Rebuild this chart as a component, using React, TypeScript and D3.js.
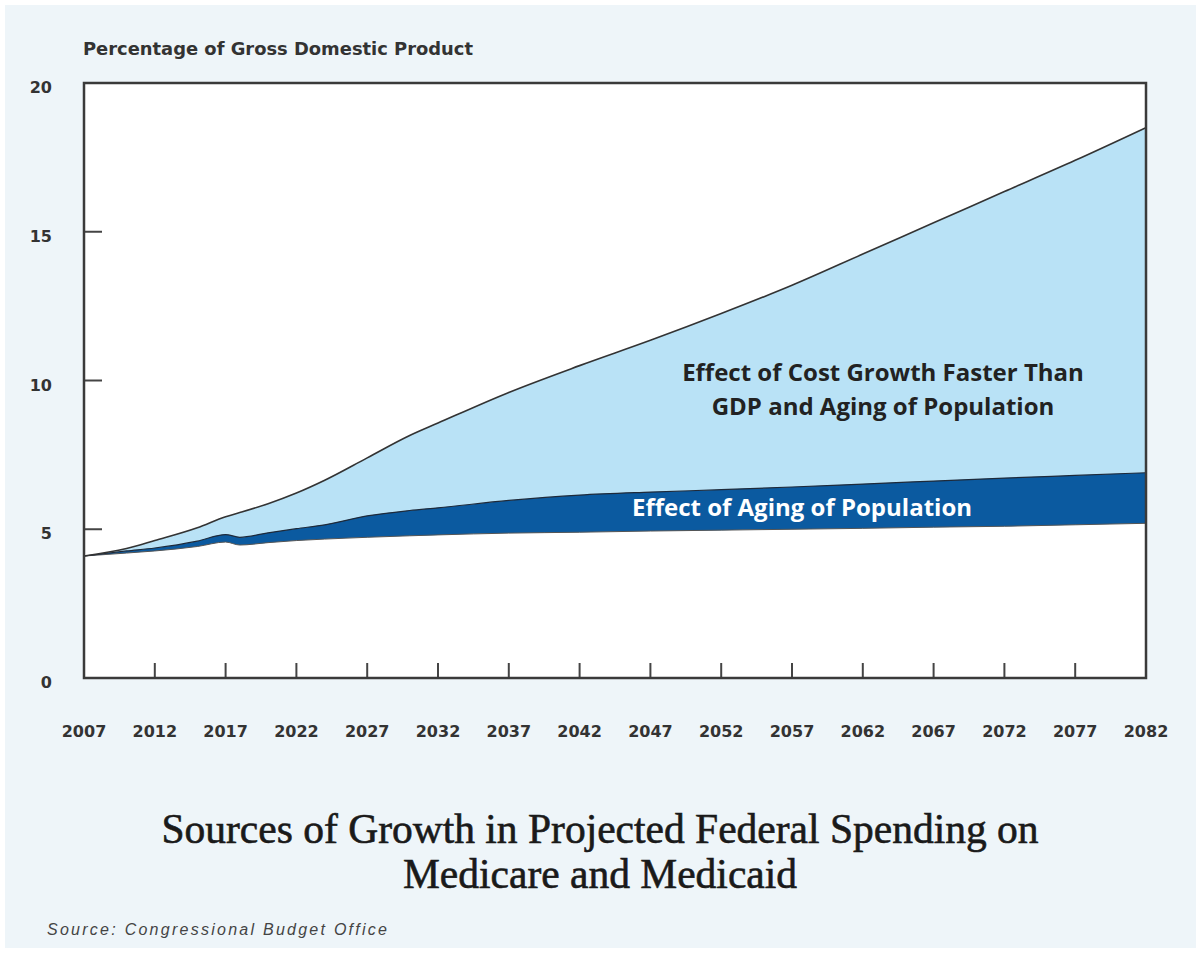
import React from "react";
import * as d3 from "d3";

const years = [2007, 2010, 2012, 2015, 2017, 2018, 2020, 2022, 2024, 2027, 2030, 2032, 2037, 2042, 2047, 2052, 2057, 2062, 2067, 2072, 2077, 2082];
const totalSpending = [4.1, 4.35, 4.62, 5.05, 5.42, 5.56, 5.86, 6.22, 6.65, 7.4, 8.15, 8.57, 9.6, 10.5, 11.35, 12.25, 13.2, 14.25, 15.3, 16.35, 17.4, 18.5];
const withAging = [4.1, 4.27, 4.37, 4.6, 4.82, 4.73, 4.88, 5.02, 5.15, 5.45, 5.63, 5.72, 5.97, 6.15, 6.25, 6.33, 6.42, 6.52, 6.62, 6.72, 6.81, 6.9];
const baseline = [4.1, 4.2, 4.27, 4.42, 4.57, 4.47, 4.55, 4.62, 4.67, 4.73, 4.78, 4.81, 4.87, 4.9, 4.94, 4.97, 5.0, 5.03, 5.07, 5.1, 5.15, 5.2];

const xTickYears = [2007, 2012, 2017, 2022, 2027, 2032, 2037, 2042, 2047, 2052, 2057, 2062, 2067, 2072, 2077, 2082];
const yTickValues = [0, 5, 10, 15, 20];

const yAxisTitle = "Percentage of Gross Domestic Product";
const costLabel = ["Effect of Cost Growth Faster Than", "GDP and Aging of Population"];
const agingLabel = "Effect of Aging of Population";
const titleLines = ["Sources of Growth in Projected Federal Spending on", "Medicare and Medicaid"];
const sourceText = "Source: Congressional Budget Office";

export default function App() {
  const W = 1201, H = 953;
  const left = 84, right = 1146, top = 83, bottom = 678;
  const x = d3.scaleLinear().domain([2007, 2082]).range([left, right]);
  const y = d3.scaleLinear().domain([0, 20]).range([bottom, top]);

  const rows = years.map((yr, i) => ({ yr, t: totalSpending[i], a: withAging[i], b: baseline[i] }));
  const curve = d3.curveMonotoneX;

  const lightArea = d3.area<any>().curve(curve).x(d => x(d.yr)).y0(d => y(d.b)).y1(d => y(d.t));
  const darkArea = d3.area<any>().curve(curve).x(d => x(d.yr)).y0(d => y(d.b)).y1(d => y(d.a));
  const lineT = d3.line<any>().curve(curve).x(d => x(d.yr)).y(d => y(d.t));
  const lineA = d3.line<any>().curve(curve).x(d => x(d.yr)).y(d => y(d.a));
  const lineB = d3.line<any>().curve(curve).x(d => x(d.yr)).y(d => y(d.b));

  const numFont = "'DejaVu Sans', Verdana, sans-serif";
  const labelFont = "'Open Sans', Lato, sans-serif";

  return (
    <svg width={W} height={H} style={{ position: "absolute", left: 0, top: 0 }}>
      <rect x={0} y={0} width={W} height={H} fill="#ffffff" />
      <rect x={5} y={5} width={W - 10} height={H - 10} fill="#eef5f9" />
      <rect x={left} y={top} width={right - left} height={bottom - top} fill="#ffffff" />

      <path d={lightArea(rows) || ""} fill="#b9e2f6" />
      <path d={darkArea(rows) || ""} fill="#0b5aa0" />
      <path d={lineB(rows) || ""} fill="none" stroke="#555" strokeWidth={1} />
      <path d={lineA(rows) || ""} fill="none" stroke="#1e2a3a" strokeWidth={1.2} />
      <path d={lineT(rows) || ""} fill="none" stroke="#333" strokeWidth={1.6} />

      {yTickValues.filter(v => v > 0 && v < 20).map(v => (
        <line key={"yt" + v} x1={left} x2={left + 18} y1={y(v)} y2={y(v)} stroke="#444" strokeWidth={2} />
      ))}
      {xTickYears.filter(v => v > 2007 && v < 2082).map(v => (
        <line key={"xt" + v} x1={x(v)} x2={x(v)} y1={bottom} y2={bottom - 15} stroke="#444" strokeWidth={2} />
      ))}

      <rect x={left} y={top} width={right - left} height={bottom - top} fill="none" stroke="#3a3a3a" strokeWidth={2.5} />

      {yTickValues.map(v => (
        <text key={"yl" + v} x={52} y={y(v) + 10} textAnchor="end" fontFamily={numFont} fontWeight="bold" fontSize={16} fill="#333">{v}</text>
      ))}
      {xTickYears.map(v => (
        <text key={"xl" + v} x={x(v)} y={737} textAnchor="middle" fontFamily={numFont} fontWeight="bold" fontSize={16} fill="#333">{v}</text>
      ))}

      <text x={83} y={55} fontFamily={numFont} fontWeight="bold" fontSize={17} fill="#333" textLength={390} lengthAdjust="spacingAndGlyphs">{yAxisTitle}</text>

      {costLabel.map((s, i) => (
        <text key={"cl" + i} x={883} y={381 + i * 34} textAnchor="middle" fontFamily={labelFont} fontWeight="bold" fontSize={24} fill="#222">{s}</text>
      ))}
      <text x={802} y={516} textAnchor="middle" fontFamily={labelFont} fontWeight="bold" fontSize={24} fill="#ffffff">{agingLabel}</text>

      {titleLines.map((s, i) => (
        <text key={"tt" + i} x={600} y={843 + i * 45} textAnchor="middle" fontFamily="'Liberation Serif', 'Times New Roman', serif" fontSize={41.5} fill="#1a1a1a" stroke="#1a1a1a" strokeWidth={0.6}>{s}</text>
      ))}

      <text x={47} y={935} fontFamily="'Liberation Sans', Arial, sans-serif" fontStyle="italic" fontSize={16} fill="#444" textLength={340} lengthAdjust="spacing">{sourceText}</text>
    </svg>
  );
}
